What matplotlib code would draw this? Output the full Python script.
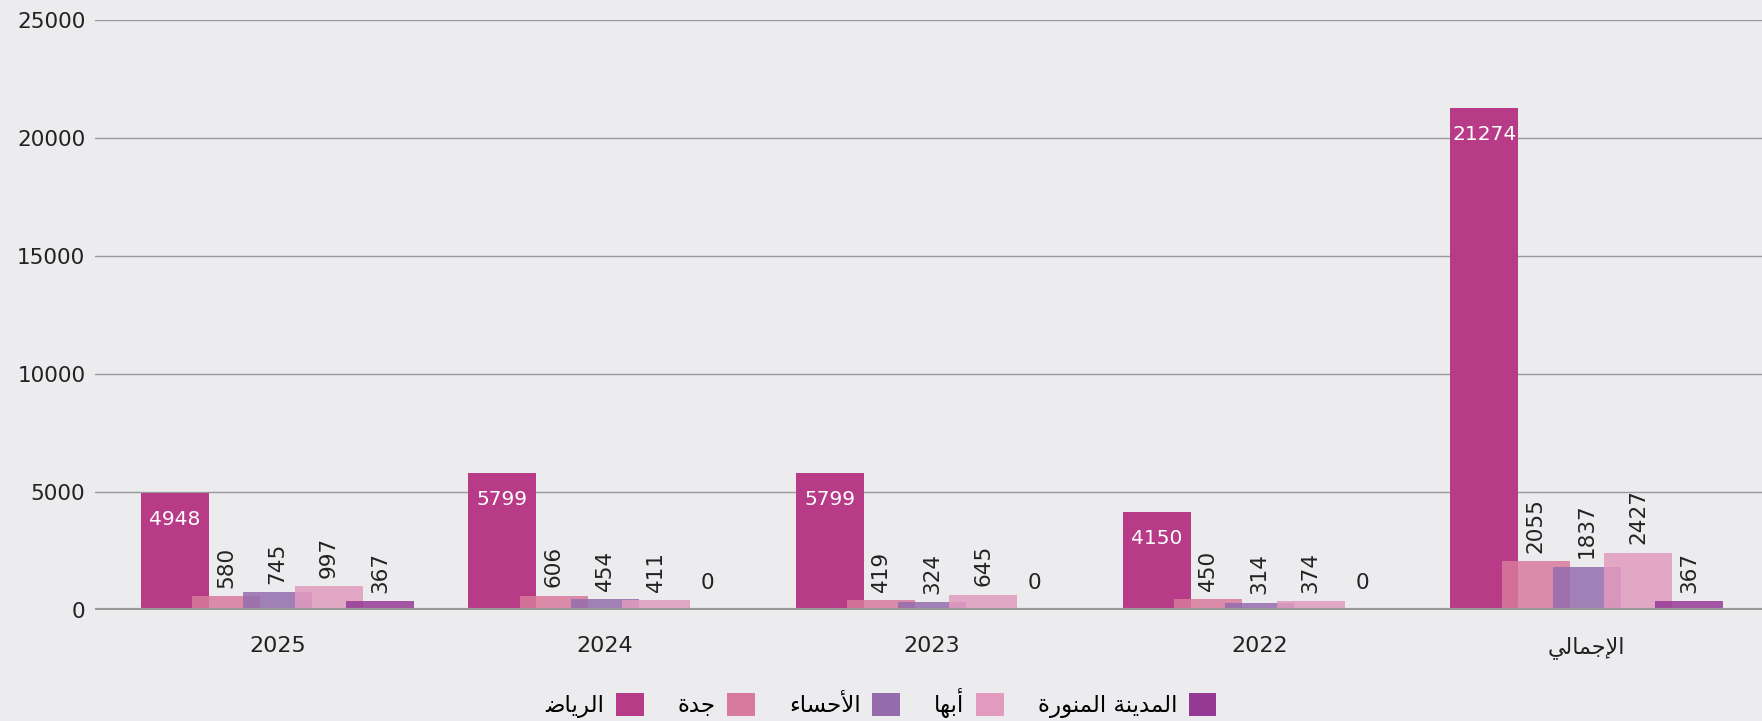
import matplotlib
matplotlib.use("Agg")
import matplotlib.pyplot as plt
from matplotlib.patches import Patch
import numpy as np

plt.rcParams['font.family'] = ['DejaVu Sans']

# Arabic words written in presentation forms (logical order), reversed for LTR drawing
def ar(s):
    return s[::-1]

categories = ['2025', '2024', '2023', '2022',
              ar('\uFE8D\uFEF9\uFE9F\uFEE4\uFE8E\uFEDF\uFEF2')]  # الإجمالي
series_names = [
    ar('\uFE8D\uFEDF\uFEAE\uFEF3\uFE8E\uFEBF'),  # الرياض
    ar('\uFE9F\uFEAA\uFE93'),  # جدة
    ar('\uFE8D\uFEF7\uFEA3\uFEB4\uFE8E\uFE80'),  # الأحساء
    ar('\uFE83\uFE91\uFEEC\uFE8E'),  # أبها
    ar('\uFE8D\uFEDF\uFEE4\uFEAA\uFEF3\uFEE8\uFE94 \uFE8D\uFEDF\uFEE4\uFEE8\uFEEE\uFEAD\uFE93'),  # المدينة المنورة
]

riyadh = [4948, 5799, 5799, 4150, 21274]
jeddah = [580, 606, 419, 450, 2055]
ahsa = [745, 454, 324, 314, 1837]
abha = [997, 411, 645, 374, 2427]
madina = [367, 0, 0, 0, 367]

series = [riyadh, jeddah, ahsa, abha, madina]
colors = ['#B83B87', '#D87A9B', '#946CAE', '#E29BBF', '#963995']
alphas = [1.0, 0.85, 0.85, 0.85, 0.85]

bg = '#ECECEE'
fig = plt.figure(figsize=(17.62, 7.21), dpi=100, facecolor=bg)
ax = fig.add_axes([0.054, 0.154, 0.946, 0.818])
ax.set_facecolor(bg)

x = np.arange(len(categories))
width = 0.208
step = 0.1565

for i, (vals, c, a) in enumerate(zip(series, colors, alphas)):
    pos = x + (i - 2) * step
    ax.bar(pos, vals, width=width, color=c, alpha=a, zorder=3 + i)
    for p, v in zip(pos, vals):
        if i == 0:
            ax.annotate(str(v), (p, v), xytext=(0, -19), textcoords='offset points',
                        ha='center', va='center', color='white', fontsize=14.5, zorder=10)
        elif v == 0:
            ax.annotate(str(v), (p, v), xytext=(0, 12), textcoords='offset points',
                        ha='center', va='bottom', color='#222222',
                        fontsize=15.5, zorder=10)
        else:
            ax.annotate(str(v), (p, v), xytext=(0, 6), textcoords='offset points',
                        ha='center', va='bottom', rotation=90, color='#222222',
                        fontsize=15.5, zorder=10)

ax.set_ylim(0, 25000)
ax.set_xlim(-0.557, 4.535)
ax.set_yticks(np.arange(0, 25001, 5000))
ax.set_xticks(x)
ax.set_xticklabels(categories)
ax.tick_params(axis='both', length=0, colors='#222222')
ax.tick_params(axis='y', pad=7, labelsize=15.5)
ax.tick_params(axis='x', pad=19, labelsize=16)
ax.grid(axis='y', color='#999999', linewidth=1, zorder=0)
ax.axhline(0, color='#999999', linewidth=3, zorder=20)
for s in ax.spines.values():
    s.set_visible(False)

handles = [Patch(facecolor=c) for c in colors]
fig.legend(handles, series_names, loc='lower center', bbox_to_anchor=(0.5, -0.025),
           ncol=5, frameon=False, markerfirst=False, fontsize=16.5,
           handlelength=1.2, handleheight=1.2, columnspacing=1.5, handletextpad=0.5)

fig.savefig('out.png', dpi=100, facecolor=bg)
